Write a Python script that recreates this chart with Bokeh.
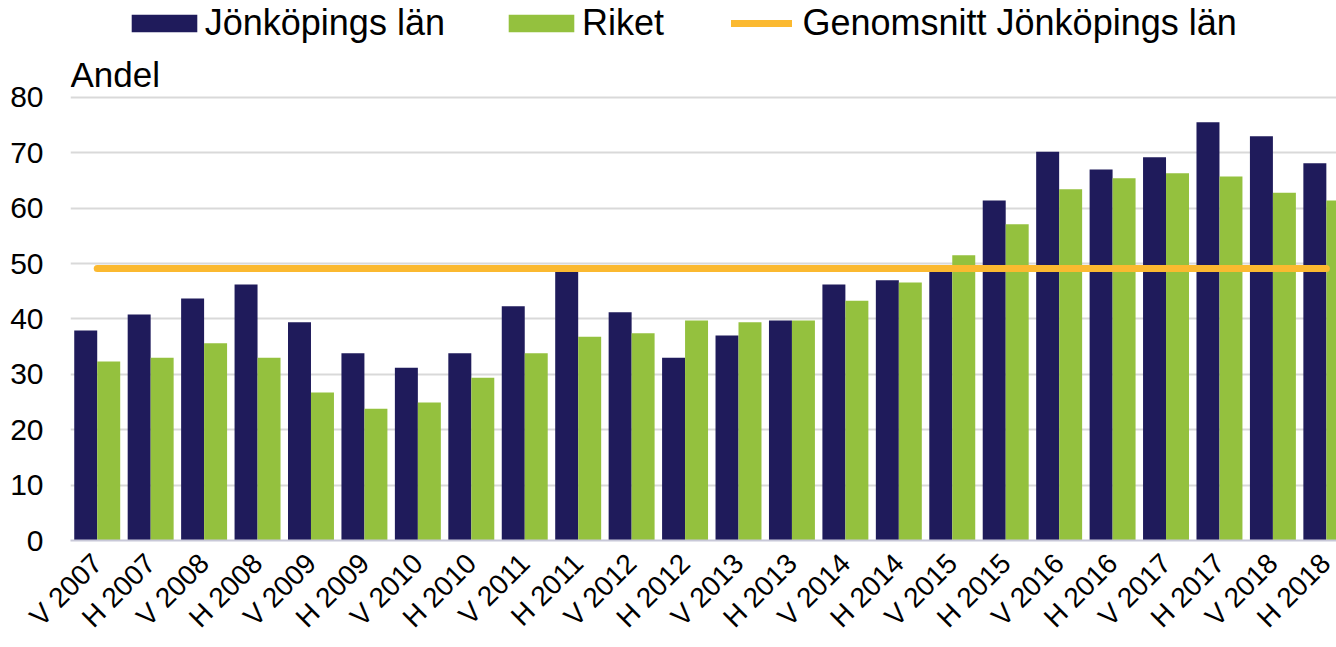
from bokeh.plotting import figure
from bokeh.models import Range1d, FixedTicker, Legend, LegendItem, Label, ColumnDataSource
from bokeh.embed import file_html
from bokeh.resources import INLINE
import math

categories = ["V 2007", "H 2007", "V 2008", "H 2008", "V 2009", "H 2009", "V 2010", "H 2010",
              "V 2011", "H 2011", "V 2012", "H 2012", "V 2013", "H 2013", "V 2014", "H 2014",
              "V 2015", "H 2015", "V 2016", "H 2016", "V 2017", "H 2017", "V 2018", "H 2018"]
jonkoping = [37.9, 40.8, 43.7, 46.2, 39.4, 33.8, 31.2, 33.8, 42.3, 49.1, 41.2, 33.0,
             37.0, 39.7, 46.2, 47.0, 49.2, 61.4, 70.2, 67.0, 69.2, 75.5, 73.0, 68.1]
riket = [32.3, 33.0, 35.6, 33.0, 26.7, 23.8, 24.9, 29.4, 33.8, 36.8, 37.4, 39.7,
         39.4, 39.7, 43.3, 46.6, 51.5, 57.1, 63.4, 65.4, 66.3, 65.7, 62.8, 61.4]
average = 49.1
y_ticks = [0, 10, 20, 30, 40, 50, 60, 70, 80]

NAVY = "#1F1B5B"
GREEN = "#94C13E"
ORANGE = "#FBB930"
FONT = "Liberation Sans"

n = len(categories)
centers = [i + 0.5 for i in range(n)]
bw = 0.43
src = ColumnDataSource(dict(
    xj=[c - bw / 2 for c in centers], xr=[c + bw / 2 for c in centers],
    j=jonkoping, r=riket))

p = figure(width=1336, height=647, output_backend="svg", toolbar_location=None,
           x_range=Range1d(0, 23.69), y_range=Range1d(0, 97.5),
           min_border_left=70, min_border_right=0, min_border_top=0, min_border_bottom=100)
p.outline_line_color = None
p.background_fill_color = "white"
p.border_fill_color = "white"

rj = p.vbar(x="xj", top="j", width=bw, bottom=0, source=src, fill_color=NAVY, line_color=None)
rr = p.vbar(x="xr", top="r", width=bw, bottom=0, source=src, fill_color=GREEN, line_color=None)
ra = p.line(x=[centers[0], centers[-1]], y=[average, average], line_color=ORANGE,
            line_width=7, line_cap="round")

p.xgrid.grid_line_color = None
p.ygrid.grid_line_color = "#D9D9D9"
p.ygrid.grid_line_width = 2
p.yaxis.ticker = FixedTicker(ticks=y_ticks)
p.yaxis.axis_line_color = None
p.yaxis.major_tick_line_color = None
p.yaxis.minor_tick_line_color = None
p.yaxis.major_tick_out = 0
p.yaxis.major_label_text_font = FONT
p.yaxis.major_label_text_font_size = "30px"
p.yaxis.major_label_text_color = "black"
p.yaxis.major_label_standoff = 27

p.xaxis.ticker = FixedTicker(ticks=centers)
p.xaxis.major_label_overrides = {c: lab for c, lab in zip(centers, categories)}
p.xaxis.major_label_orientation = math.pi / 4
p.xaxis.axis_line_color = "#C8C8D8"
p.xaxis.axis_line_width = 2
p.xaxis.major_tick_line_color = None
p.xaxis.minor_tick_line_color = None
p.xaxis.major_tick_out = 0
p.xaxis.major_tick_in = 0
p.xaxis.major_label_text_font = FONT
p.xaxis.major_label_text_font_size = "28px"
p.xaxis.major_label_text_color = "black"
p.xaxis.major_label_standoff = 18

p.add_layout(Label(x=0, y=80, y_offset=23, text="Andel", text_font=FONT,
                   text_font_size="35px", text_color="black", text_baseline="alphabetic"))

common = dict(orientation="horizontal", padding=0, margin=0, border_line_color=None,
              background_fill_alpha=0, label_text_font=FONT, label_text_font_size="36px",
              label_text_color="black", label_height=36)
legend_bars = Legend(items=[LegendItem(label="Jönköpings län", renderers=[rj]),
                            LegendItem(label="Riket", renderers=[rr])],
                     location=(52.75, 496), glyph_width=82, glyph_height=22,
                     label_standoff=0, spacing=55, **common)
legend_line = Legend(items=[LegendItem(label="Genomsnitt Jönköpings län", renderers=[ra])],
                     location=(660.5, 496), glyph_width=61, glyph_height=22,
                     label_standoff=11, **common)
p.add_layout(legend_bars)
p.add_layout(legend_line)

open("out.html", "w").write(file_html(p, INLINE))
